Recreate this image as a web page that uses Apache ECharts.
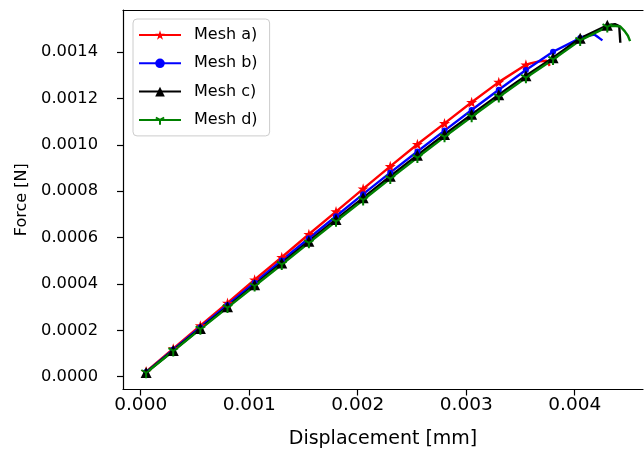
<!DOCTYPE html>
<html>
<head>
<meta charset="utf-8">
<script src="https://cdn.jsdelivr.net/npm/echarts@6/dist/echarts.min.js"></script>
<style>
html,body{margin:0;padding:0;background:#fff;}
#chart{width:644px;height:455px;}
</style>
</head>
<body>
<div id="chart"></div>
<script>
// ---- data ----
const seriesNames = ['Mesh a)', 'Mesh b)', 'Mesh c)', 'Mesh d)'];
// displacement [mm] where markers are drawn
const markerX = [0.00005, 0.0003, 0.00055, 0.0008, 0.00105, 0.0013, 0.00155, 0.0018, 0.00205,
                 0.0023, 0.00255, 0.0028, 0.00305, 0.0033, 0.00355, 0.0038, 0.00405, 0.0043];
// force [N] at marker displacements
const forceA = [0.000022, 0.000121, 0.000220, 0.000318, 0.000418, 0.000515, 0.000614, 0.000712, 0.000810,
                0.000907, 0.001002, 0.001092, 0.001183, 0.001270, 0.001345];
const forceB = [0.000020, 0.000117, 0.000213, 0.000309, 0.000405, 0.000501, 0.000597, 0.000692, 0.000787,
                0.000880, 0.000971, 0.001061, 0.001150, 0.001237, 0.001322, 0.001401, 0.001460];
const forceC = [0.000018, 0.000113, 0.000208, 0.000302, 0.000396, 0.000490, 0.000584, 0.000678, 0.000771,
                0.000864, 0.000955, 0.001044, 0.001131, 0.001216, 0.001298, 0.001375, 0.001459, 0.001515];
const forceD = [0.000017, 0.000111, 0.000205, 0.000298, 0.000391, 0.000484, 0.000577, 0.000670, 0.000762,
                0.000854, 0.000945, 0.001034, 0.001121, 0.001206, 0.001289, 0.001368, 0.001450, 0.001508];
// end (post-peak) parts of each curve, no markers
const tailAX = [0.0036, 0.00368, 0.00374, 0.00377];
const tailAF = [0.001352, 0.001360, 0.001362, 0.001340];
const tailBX = [0.0041, 0.00418, 0.00422, 0.004255];
const tailBF = [0.001468, 0.001475, 0.001462, 0.001450];
const tailCX = [0.00437, 0.00441, 0.00442];
const tailCF = [0.001520, 0.001512, 0.001440];
const tailDX = [0.00436, 0.00442, 0.00446, 0.00449, 0.00451];
const tailDF = [0.001513, 0.001510, 0.001490, 0.001470, 0.001447];
// tick labels
const xTicks = [0, 0.001, 0.002, 0.003, 0.004];
const yTicks = [0, 0.0002, 0.0004, 0.0006, 0.0008, 0.0010, 0.0012, 0.0014];

function build(f, tx, tf) {
  const d = f.map((v, i) => [markerX[i], v]);
  tx.forEach((x, i) => d.push({ value: [x, tf[i]], symbol: 'none' }));
  return d;
}

const starPath = 'path://M0,-10 L2.245,-3.09 L9.511,-3.09 L3.633,1.18 L5.878,8.09 L0,3.82 L-5.878,8.09 L-3.633,1.18 L-9.511,-3.09 L-2.245,-3.09 Z';
const triDownPath = 'path://M-10,-10 L-10,-10 M10,10 L10,10 M0,0 L0,10 M0,0 L8.66,-5 M0,0 L-8.66,-5';

const FONT = 'DejaVu Sans';
const chart = echarts.init(document.getElementById('chart'), null, { renderer: 'canvas' });

const mk = (name, data, color, symbol, size, stroke) => ({
  name, type: 'line', data,
  symbol, symbolSize: size, showAllSymbol: true,
  lineStyle: { color, width: 2.4 },
  itemStyle: stroke ? { color: 'rgba(0,0,0,0)', borderColor: color, borderWidth: 2 } : { color, borderWidth: 0 },
  emphasis: { disabled: true },
  animation: false
});

chart.setOption({
  animation: false,
  backgroundColor: '#fff',
  textStyle: { fontFamily: FONT },
  grid: { left: 123, top: 10, right: 1, bottom: 65.5, containLabel: false },
  legend: {
    orient: 'vertical', left: 133, top: 19,
    itemWidth: 42, itemHeight: 12, itemGap: 8.3,
    padding: [6, 12, 6, 5],
    backgroundColor: 'rgba(255,255,255,0.8)',
    borderColor: '#cccccc', borderWidth: 1, borderRadius: 4,
    textStyle: { fontFamily: FONT, fontSize: 16, color: '#000', lineHeight: 20, padding: [0, 0, 0, 8] },
    data: seriesNames
  },
  xAxis: [{
    type: 'value', min: -0.000163, max: 0.004629,
    name: 'Displacement [mm]', nameLocation: 'middle', nameGap: 40,
    nameTextStyle: { fontFamily: FONT, fontSize: 19, color: '#000' },
    axisLine: { show: true, onZero: false, lineStyle: { color: '#000', width: 1.2 } },
    axisTick: { show: true, length: 6, lineStyle: { color: '#000', width: 1.2 }, customValues: xTicks },
    axisLabel: { customValues: xTicks, margin: 6, fontFamily: FONT, fontSize: 18.5, color: '#000',
                 formatter: v => v.toFixed(3) },
    splitLine: { show: false }
  }, {
    type: 'value', position: 'top', min: -0.000163, max: 0.004629,
    axisLine: { show: true, onZero: false, lineStyle: { color: '#000', width: 1.2 } },
    axisTick: { show: false }, axisLabel: { show: false }, splitLine: { show: false }
  }],
  yAxis: {
    type: 'value', min: -0.0000552, max: 0.001581,
    name: 'Force [N]', nameLocation: 'middle', nameGap: 84, nameRotate: 90,
    nameTextStyle: { fontFamily: FONT, fontSize: 16, color: '#000' },
    axisLine: { show: true, onZero: false, lineStyle: { color: '#000', width: 1.2 } },
    axisTick: { show: true, length: 6, lineStyle: { color: '#000', width: 1.2 }, customValues: yTicks },
    axisLabel: { customValues: yTicks, margin: 25, fontFamily: FONT, fontSize: 16.3, color: '#000',
                 formatter: v => v.toFixed(4) },
    splitLine: { show: false }
  },
  series: [
    mk(seriesNames[0], build(forceA, tailAX, tailAF), '#ff0000', starPath, 11, false),
    mk(seriesNames[1], build(forceB, tailBX, tailBF), '#0000ff', 'circle', 6, false),
    mk(seriesNames[2], build(forceC, tailCX, tailCF), '#000000', 'triangle', 11, false),
    mk(seriesNames[3], build(forceD, tailDX, tailDF), '#008000', triDownPath, 11, true)
  ]
});
</script>
</body>
</html>
